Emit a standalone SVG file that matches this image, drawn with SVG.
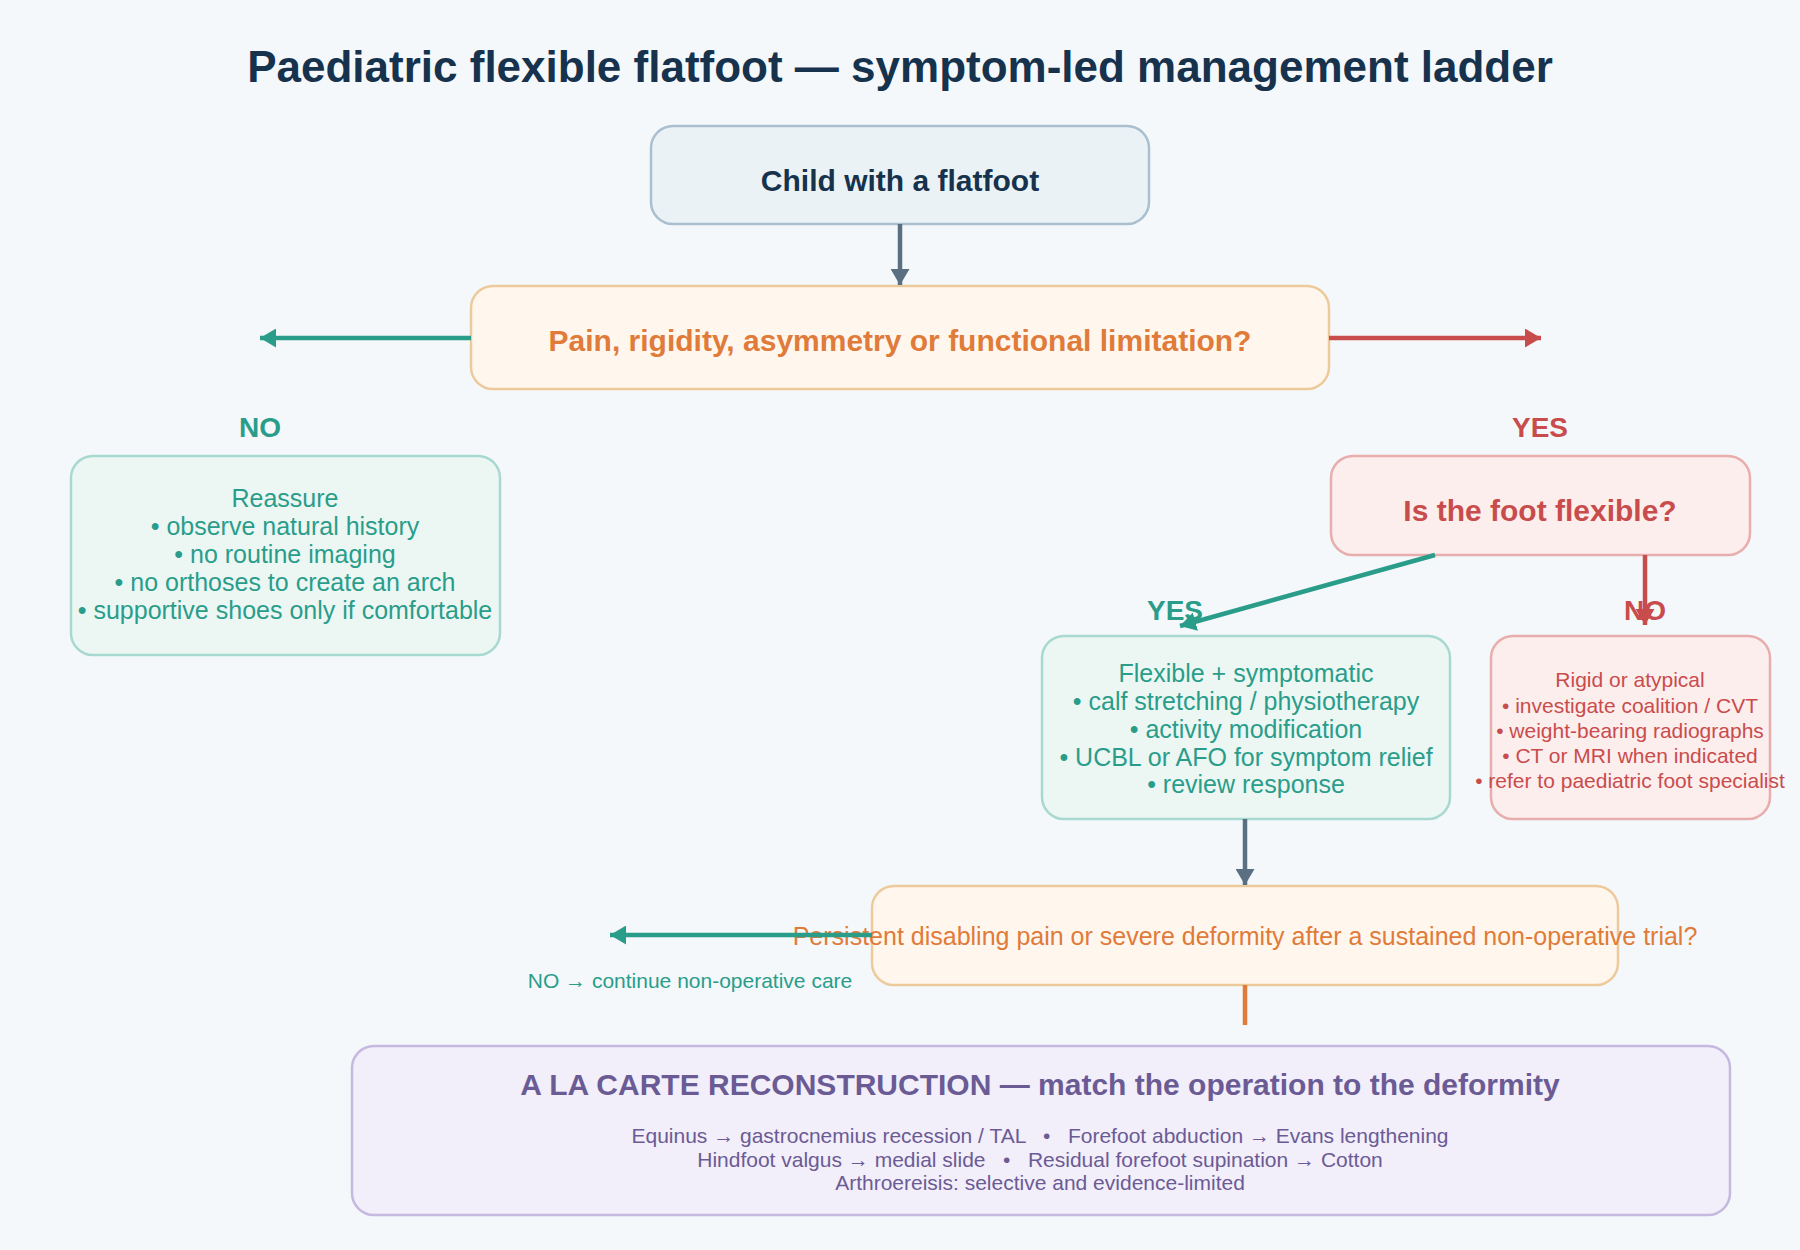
<svg xmlns="http://www.w3.org/2000/svg" width="1800" height="1250" viewBox="0 0 1800 1250">
<defs>
<style>
text{font-family:"Liberation Sans",Arial,sans-serif}
.title{font-size:44px;font-weight:bold;fill:#17324d;text-anchor:middle}
.b30{font-size:30px;font-weight:bold;text-anchor:middle}
.lbl{font-size:28px;font-weight:bold;text-anchor:middle}
.t25{font-size:25px;text-anchor:middle}
.t21{font-size:21px;text-anchor:middle}
.navy{fill:#17324d}.orange{fill:#e07b39}.teal{fill:#2a9d8a}.red{fill:#c94c4c}.purple{fill:#6b5b95}
.box{stroke-width:2.5}
.c{fill:none;stroke-width:4.5}
</style>
<marker id="mSlate" markerUnits="userSpaceOnUse" markerWidth="16" markerHeight="19" viewBox="0 0 16 19" refX="16" refY="9.5" orient="auto"><path d="M0,0 L16,9.5 L0,19 z" fill="#5b6f82"/></marker>
<marker id="mTeal" markerUnits="userSpaceOnUse" markerWidth="16" markerHeight="19" viewBox="0 0 16 19" refX="16" refY="9.5" orient="auto"><path d="M0,0 L16,9.5 L0,19 z" fill="#2a9d8a"/></marker>
<marker id="mRed" markerUnits="userSpaceOnUse" markerWidth="16" markerHeight="19" viewBox="0 0 16 19" refX="16" refY="9.5" orient="auto"><path d="M0,0 L16,9.5 L0,19 z" fill="#c94c4c"/></marker>
</defs>
<rect x="0" y="0" width="1800" height="1250" fill="#f4f8fb"/>
<text class="title" x="900" y="82">Paediatric flexible flatfoot — symptom-led management ladder</text>

<g id="start">
<rect class="box" x="651" y="126" width="498" height="98" rx="22" fill="#eaf2f6" stroke="#aabfd0"/>
<text class="b30 navy" x="900" y="191">Child with a flatfoot</text>
</g>
<g id="decision1">
<rect class="box" x="471" y="286" width="858" height="103" rx="22" fill="#fff7ee" stroke="#edca9c"/>
<text class="b30 orange" x="900" y="351">Pain, rigidity, asymmetry or functional limitation?</text>
</g>
<g id="label-no1"><text class="lbl teal" x="260" y="437">NO</text></g>
<g id="label-yes1"><text class="lbl red" x="1540" y="437">YES</text></g>
<g id="reassure">
<rect class="box" x="71" y="456" width="429" height="199" rx="22" fill="#ecf7f4" stroke="#a8d9d0"/>
<text class="t25 teal" x="285" y="507">Reassure</text>
<text class="t25 teal" x="285" y="535">• observe natural history</text>
<text class="t25 teal" x="285" y="563">• no routine imaging</text>
<text class="t25 teal" x="285" y="591">• no orthoses to create an arch</text>
<text class="t25 teal" x="285" y="619">• supportive shoes only if comfortable</text>
</g>
<g id="flexible-q">
<rect class="box" x="1331" y="456" width="419" height="99" rx="22" fill="#fdeeee" stroke="#e8adad"/>
<text class="b30 red" x="1540" y="521">Is the foot flexible?</text>
</g>
<g id="label-yes2"><text class="lbl teal" x="1175" y="620">YES</text></g>
<g id="label-no2"><text class="lbl red" x="1645" y="620">NO</text></g>
<g id="flexible-symptomatic">
<rect class="box" x="1042" y="636" width="408" height="183" rx="22" fill="#ecf7f4" stroke="#a8d9d0"/>
<text class="t25 teal" x="1246" y="682">Flexible + symptomatic</text>
<text class="t25 teal" x="1246" y="710">• calf stretching / physiotherapy</text>
<text class="t25 teal" x="1246" y="738">• activity modification</text>
<text class="t25 teal" x="1246" y="766">• UCBL or AFO for symptom relief</text>
<text class="t25 teal" x="1246" y="793">• review response</text>
</g>
<g id="rigid">
<rect class="box" x="1491" y="636" width="279" height="183" rx="22" fill="#fdeeee" stroke="#e8adad"/>
<text class="t21 red" x="1630" y="687">Rigid or atypical</text>
<text class="t21 red" x="1630" y="713">• investigate coalition / CVT</text>
<text class="t21 red" x="1630" y="738">• weight-bearing radiographs</text>
<text class="t21 red" x="1630" y="763">• CT or MRI when indicated</text>
<text class="t21 red" x="1630" y="788">• refer to paediatric foot specialist</text>
</g>
<g id="decision2">
<rect class="box" x="872" y="886" width="746" height="99" rx="22" fill="#fff7ee" stroke="#edca9c"/>
<text class="t25 orange" x="1245" y="945">Persistent disabling pain or severe deformity after a sustained non-operative trial?</text>
</g>
<g id="label-no3"><text class="t21 teal" x="690" y="988">NO → continue non-operative care</text></g>
<g id="reconstruction">
<rect class="box" x="352" y="1046" width="1378" height="169" rx="22" fill="#f2eefa" stroke="#c6b9df"/>
<text class="b30 purple" x="1040" y="1095">A LA CARTE RECONSTRUCTION — match the operation to the deformity</text>
<text class="t21 purple" x="1040" y="1143" xml:space="preserve">Equinus → gastrocnemius recession / TAL   •   Forefoot abduction → Evans lengthening</text>
<text class="t21 purple" x="1040" y="1167" xml:space="preserve">Hindfoot valgus → medial slide   •   Residual forefoot supination → Cotton</text>
<text class="t21 purple" x="1040" y="1190">Arthroereisis: selective and evidence-limited</text>
</g>

<g id="connectors">
<path class="c" d="M900,224 L900,285" stroke="#5b6f82" marker-end="url(#mSlate)"/>
<path class="c" d="M471,338 L260,338" stroke="#2a9d8a" marker-end="url(#mTeal)"/>
<path class="c" d="M1329,338 L1541,338" stroke="#c94c4c" marker-end="url(#mRed)"/>
<path class="c" d="M1435,555 L1180,626" stroke="#2a9d8a" marker-end="url(#mTeal)"/>
<path class="c" d="M1645,555 L1645,625" stroke="#c94c4c" marker-end="url(#mRed)"/>
<path class="c" d="M1245,819 L1245,885" stroke="#5b6f82" marker-end="url(#mSlate)"/>
<path class="c" d="M872,935 L610,935" stroke="#2a9d8a" marker-end="url(#mTeal)"/>
<path class="c" d="M1245,985 L1245,1025" stroke="#e07b39"/>
</g>
</svg>
